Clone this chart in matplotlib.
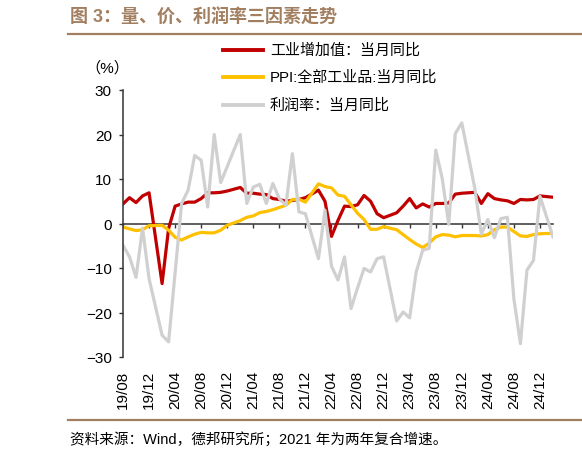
import numpy as np
import pandas as pd
import matplotlib
matplotlib.use("Agg")
import matplotlib.pyplot as plt
from matplotlib.lines import Line2D

plt.rcParams["font.family"] = ["Liberation Sans", "Noto Sans CJK SC"]

# monthly, 2019/08 - 2025/02; January is not reported (Jan-Feb combined)
months = pd.date_range("2019-08-01", periods=67, freq="MS")
labels = [d.strftime("%y/%m") for d in months]
nan = np.nan

iva = [4.4, 5.8, 4.7, 6.2, 6.9,
       nan, -13.5, -1.1, 3.9, 4.4, 4.8, 4.8, 5.6, 6.9, 6.9, 7.0, 7.3,
       nan, 8.1, 6.8, 6.8, 6.6, 6.5, 5.6, 5.4, 5.0, 5.2, 5.4, 5.8,
       nan, 7.5, 5.0, -2.9, 0.7, 3.9, 3.8, 4.2, 6.3, 5.0, 2.2, 1.3,
       nan, 2.4, 3.9, 5.6, 3.5, 4.4, 3.7, 4.5, 4.5, 4.6, 6.6, 6.8,
       nan, 7.0, 4.5, 6.7, 5.6, 5.3, 5.1, 4.5, 5.4, 5.3, 5.4, 6.2,
       nan, 5.9]

ppi = [-0.8, -1.2, -1.6, -1.4, -0.5,
       nan, -0.4, -1.5, -3.1, -3.7, -3.0, -2.4, -2.0, -2.1, -2.1, -1.5, -0.4,
       nan, 0.65, 1.4, 1.7, 2.45, 2.7, 3.1, 3.6, 4.1, 5.4, 5.45, 4.8,
       nan, 8.9, 8.3, 8.0, 6.4, 6.1, 4.2, 2.3, 0.9, -1.3, -1.3, -0.7,
       nan, -1.4, -2.5, -3.6, -4.6, -5.4, -4.4, -3.0, -2.5, -2.6, -3.0, -2.7,
       nan, -2.7, -2.8, -2.5, -1.4, -0.8, -0.8, -1.8, -2.8, -2.9, -2.5, -2.3,
       nan, -2.2]

profit = [-4.9, -7.5, -12.1, -1.0, -12.4,
          nan, -25.1, -26.6, -11.0, 4.5, 7.5, 15.3, 14.2, 3.7, 20.0, 9.2, 12.8,
          nan, 20.0, 4.5, 8.2, 8.8, 4.5, 9.0, 5.6, 4.1, 15.7, 2.6, 2.2,
          nan, -7.9, 3.0, -9.6, -12.7, -7.5, -19.1, -14.5, -10.1, -10.9, -7.9, -7.5,
          nan, -21.9, -19.9, -21.2, -10.9, -6.0, -5.6, 16.5, 10.1, -0.2, 20.2, 22.6,
          nan, 7.9, -2.4, 0.9, -3.2, 1.1, 1.4, -17.0, -27.0, -10.5, -8.3, 6.1,
          nan, -3.0]

series = [
    (iva, "#C00000", "工业增加值：当月同比"),
    (ppi, "#FFC000", "PPI:全部工业品:当月同比"),
    (profit, "#D0D0D0", "利润率：当月同比"),
]

brown = "#A27F60"

fig = plt.figure(figsize=(5.82, 4.60), dpi=100)
ax = fig.add_axes([123 / 582, 1 - 358 / 460, 430 / 582, 267 / 460])

x = np.arange(len(labels))
for vals, color, name in series:
    y = np.array(vals, dtype=float)
    ok = ~np.isnan(y)
    ax.plot(x[ok], y[ok], color=color, lw=2.3)

ax.set_xlim(0, len(labels) - 1)
ax.set_ylim(-30, 30)
ax.set_yticks(range(-30, 31, 10))

for s in ["top", "right"]:
    ax.spines[s].set_visible(False)
ax.spines["left"].set_color("#333333")
ax.spines["bottom"].set_color("#333333")
ax.spines["left"].set_linewidth(1.1)
ax.spines["bottom"].set_linewidth(1.1)
ax.spines["bottom"].set_position(("data", 0))
ax.spines["bottom"].set_zorder(1)

ax.set_xticks(x[::4])
ax.tick_params(axis="x", labelbottom=False, direction="out", length=3,
               width=1, color="#333333")
ax.tick_params(axis="y", direction="out", length=3, width=1,
               color="#333333", labelsize=11, pad=5)

sec = ax.secondary_xaxis("bottom")
sec.set_xticks(x[::4], labels=labels[::4])
sec.tick_params(length=0, pad=9, labelsize=11, rotation=90)
sec.spines["bottom"].set_visible(False)

fig.text(107 / 582, 1 - 68 / 460, "（%）", ha="center", va="center", fontsize=11)

# legend rows
for (vals, color, name), ry in zip(series, [50.5, 78, 105.5]):
    fy = 1 - ry / 460
    fig.add_artist(Line2D([223 / 582, 263 / 582], [fy, fy], color=color, lw=2.8))
    fig.text(270 / 582, fy, name, va="center", ha="left", fontsize=10.8)

fig.text(70 / 582, 1 - 18 / 460, "图 3：量、价、利润率三因素走势", fontsize=13,
         fontweight="bold", color=brown, va="center")
fig.add_artist(Line2D([68 / 582, 1], [1 - 35 / 460] * 2, color=brown, lw=1.6))
fig.add_artist(Line2D([68 / 582, 1], [1 - 421 / 460] * 2, color=brown, lw=1.6))
fig.text(70 / 582, 1 - 439 / 460, "资料来源：Wind，德邦研究所；2021 年为两年复合增速。",
         fontsize=10.5, va="center")

fig.savefig("out.png", dpi=100)
